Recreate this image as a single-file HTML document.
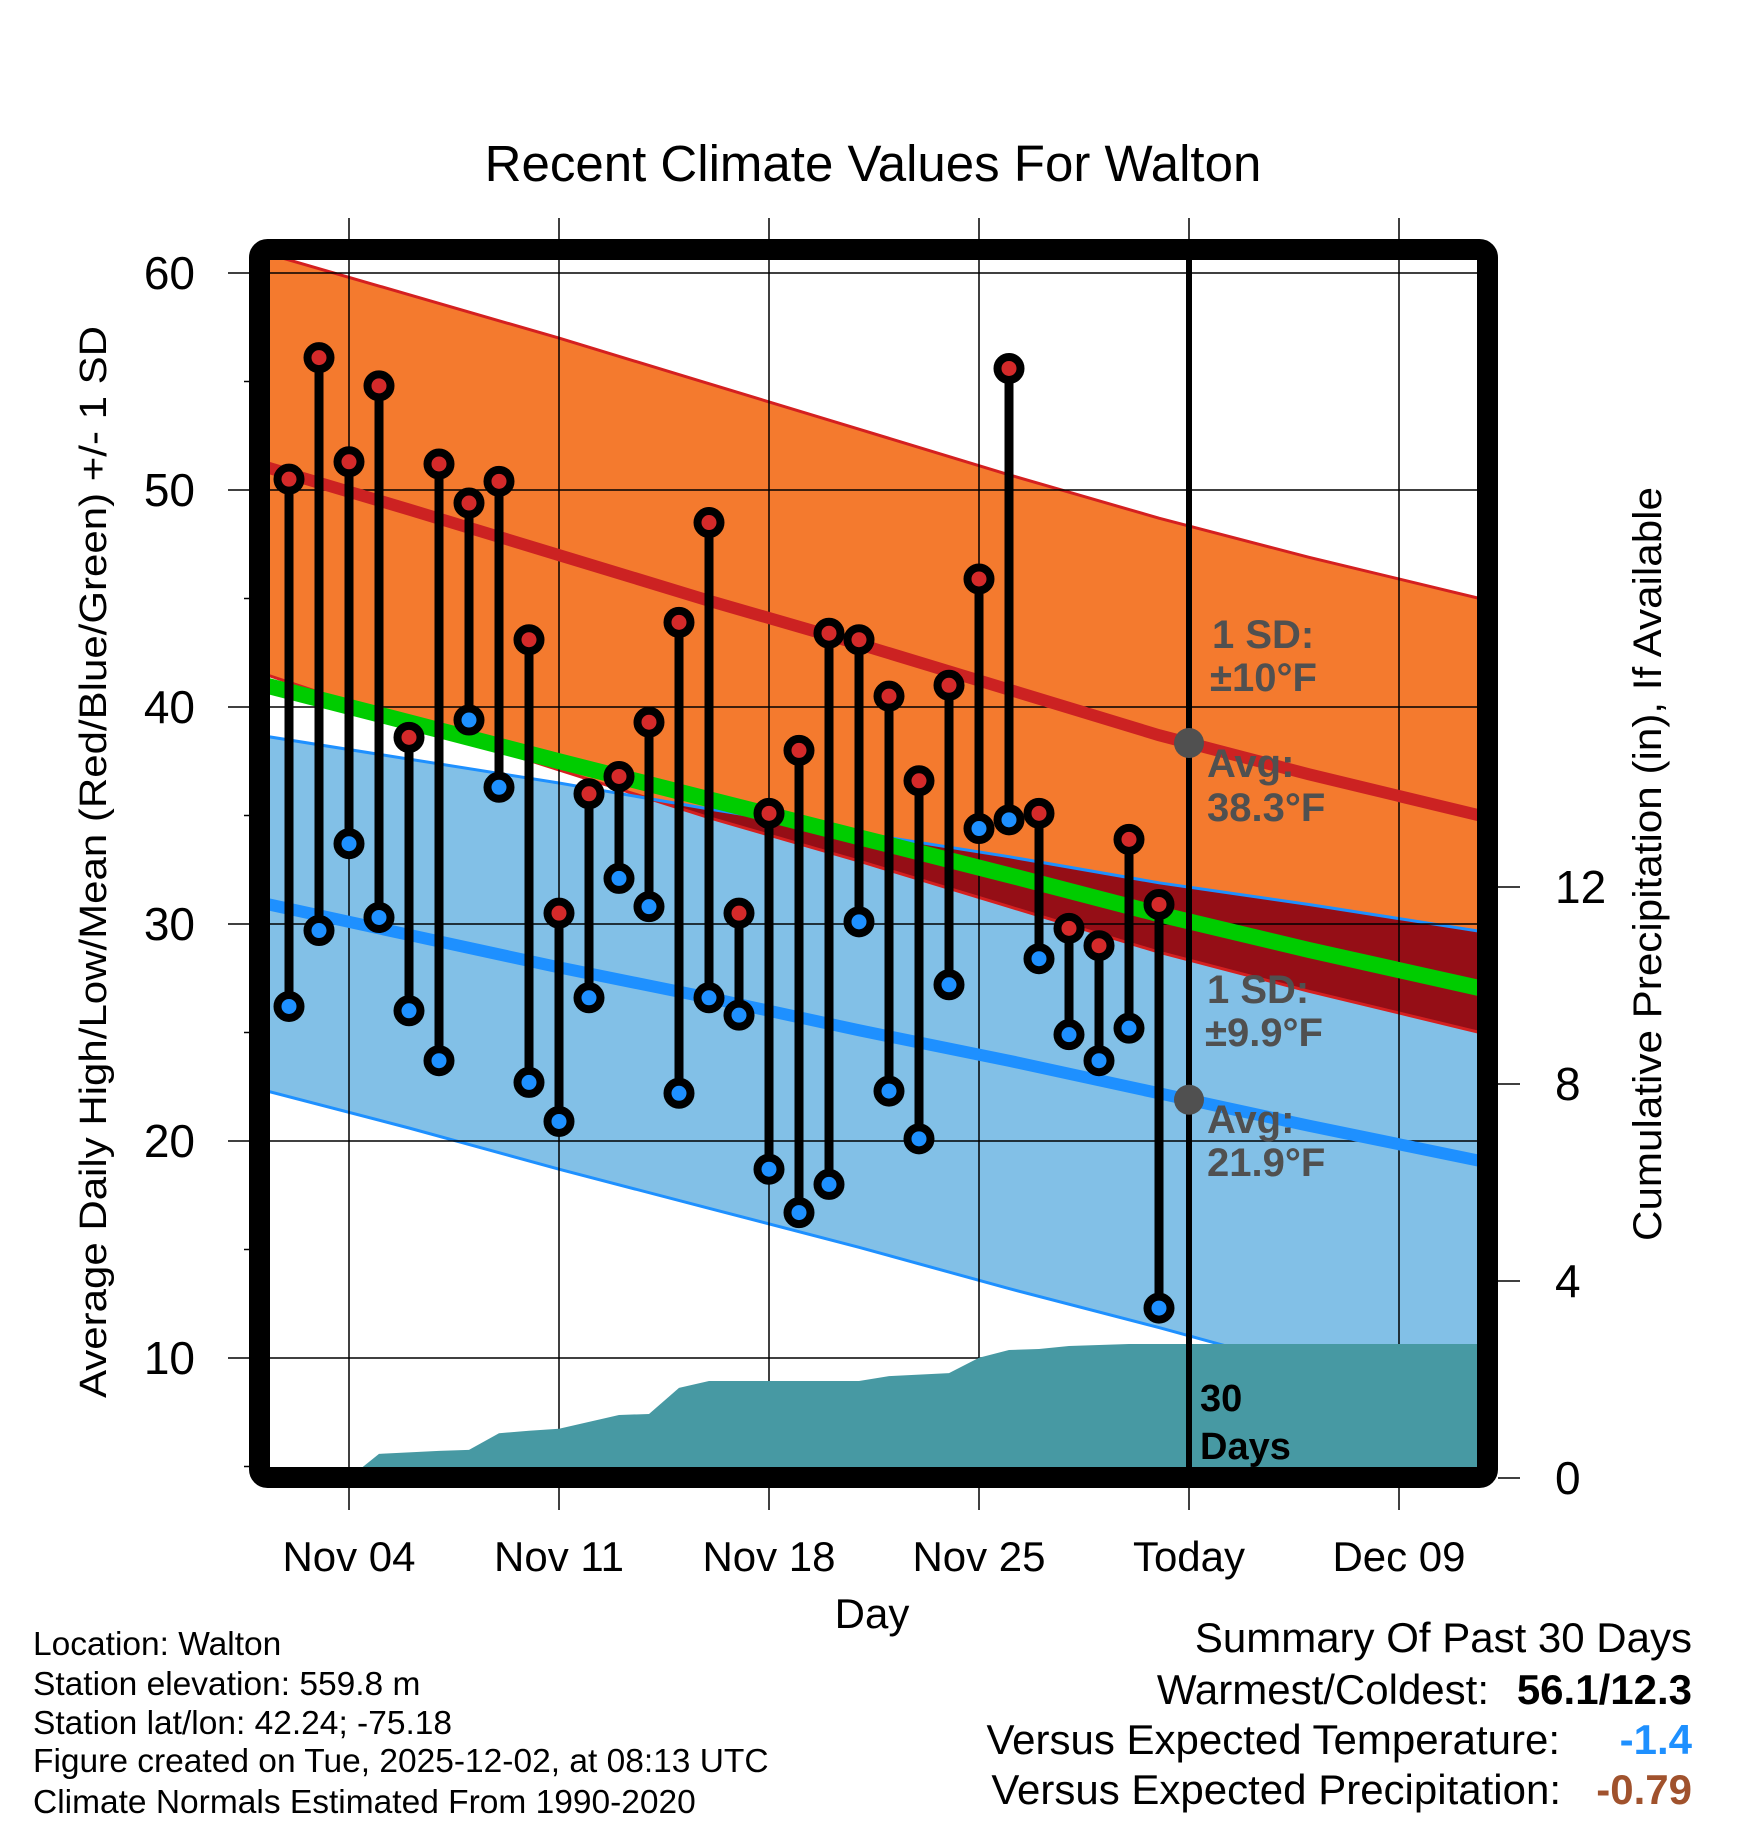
<!DOCTYPE html>
<html><head><meta charset="utf-8"><style>
html,body{margin:0;padding:0;background:#fff;}
svg{display:block;font-family:"Liberation Sans",sans-serif;}
</style></head><body>
<svg id="chart" width="1748" height="1828" viewBox="0 0 1748 1828" xmlns="http://www.w3.org/2000/svg">
<defs><clipPath id="plotclip"><rect x="270" y="260" width="1208" height="1208"/></clipPath></defs>
<text x="873" y="181" font-size="51" text-anchor="middle">Recent Climate Values For Walton</text>
<g id="bands" clip-path="url(#plotclip)"></g>
<g id="grid"></g>
<g id="precip" clip-path="url(#plotclip)"></g>
<g id="lines" clip-path="url(#plotclip)"></g>
<g id="stems"></g>
<g id="annot">
 <g font-weight="bold" font-size="40" fill="#505050">
  <text x="1212" y="648">1 SD:</text>
  <text x="1210" y="691">±10°F</text>
  <text x="1207" y="777">Avg:</text>
  <text x="1207" y="821">38.3°F</text>
  <text x="1207" y="1003">1 SD:</text>
  <text x="1205" y="1046">±9.9°F</text>
  <text x="1207" y="1133">Avg:</text>
  <text x="1207" y="1176">21.9°F</text>
 </g>
 <text x="1200" y="1411" font-weight="bold" font-size="38" fill="#000">30</text>
 <text x="1200" y="1459" font-weight="bold" font-size="38" fill="#000">Days</text>
</g>
<rect x="259.5" y="249.5" width="1228" height="1228" rx="8" fill="none" stroke="#000" stroke-width="21"/>
<g id="axes"></g>
<text transform="translate(106,862) rotate(-90)" font-size="38" text-anchor="middle" textLength="1072" lengthAdjust="spacingAndGlyphs">Average Daily High/Low/Mean (Red/Blue/Green) +/- 1 SD</text>
<text transform="translate(1661,864) rotate(-90)" font-size="40" text-anchor="middle" textLength="754" lengthAdjust="spacingAndGlyphs">Cumulative Precipitation (in), If Available</text>
<text x="872" y="1628" font-size="42" text-anchor="middle">Day</text>
<g font-size="33.5" fill="#000">
 <text x="33" y="1655">Location: Walton</text>
 <text x="33" y="1695">Station elevation: 559.8 m</text>
 <text x="33" y="1734">Station lat/lon: 42.24; -75.18</text>
 <text x="33" y="1772">Figure created on Tue, 2025-12-02, at 08:13 UTC</text>
 <text x="33" y="1813">Climate Normals Estimated From 1990-2020</text>
</g>
<g font-size="42" text-anchor="end">
 <text x="1692" y="1652">Summary Of Past 30 Days</text>
 <text x="1489" y="1704">Warmest/Coldest:</text>
 <text x="1692" y="1704" font-weight="bold">56.1/12.3</text>
 <text x="1560" y="1754">Versus Expected Temperature:</text>
 <text x="1692" y="1754" font-weight="bold" fill="#1E90FF">-1.4</text>
 <text x="1561" y="1804">Versus Expected Precipitation:</text>
 <text x="1692" y="1804" font-weight="bold" fill="#A0522D">-0.79</text>
</g>
</svg>
<script>
// day numbers: Nov d = d, Dec k = 30+k
const obsDays = [2,3,4,5,6,7,8,9,10,11,12,13,14,15,16,17,18,19,20,21,22,23,24,25,26,27,28,29,30,31];
const highs = [50.5,56.1,51.3,54.8,38.6,51.2,49.4,50.4,43.1,30.5,36.0,36.8,39.3,43.9,48.5,30.5,35.1,38.0,43.4,43.1,40.5,36.6,41.0,45.9,55.6,35.1,29.8,29.0,33.9,30.9];
const lows = [26.2,29.7,33.7,30.3,26.0,23.7,39.4,36.3,22.7,20.9,26.6,32.1,30.8,22.2,26.6,25.8,18.7,16.7,18.0,30.1,22.3,20.1,27.2,34.4,34.8,28.4,24.9,23.7,25.2,12.3];
const precip = [0,0,0,0.49,0.52,0.55,0.57,0.91,0.96,1.0,1.14,1.28,1.3,1.83,1.97,1.97,1.97,1.97,1.97,1.97,2.07,2.1,2.13,2.44,2.6,2.62,2.68,2.7,2.72,2.72];
const normDays = [1,6,11,16,21,26,31,36,42];
const highAvg = [51.15,49.1,47.0,44.9,42.9,40.8,38.7,36.9,34.9];
const highUpper = [61.0,59.0,57.0,54.9,52.8,50.7,48.7,46.9,44.9];
const highLower = [41.6,39.3,37.1,34.9,32.9,30.8,28.7,26.9,24.9];
const lowAvg = [31.0,29.5,28.0,26.6,25.1,23.7,22.2,20.7,19.0];
const lowUpper = [38.7,37.6,36.5,35.3,34.2,33.1,31.9,30.9,29.6];
const lowLower = [22.4,20.6,18.7,16.9,15.1,13.2,11.4,9.5,7.3];
const xTickDays = [4,11,18,25,32,39];
const xTickLabels = ["Nov 04","Nov 11","Nov 18","Nov 25","Today","Dec 09"];
const yTicks = [60,50,40,30,20,10];
const yMinor = [55,45,35,25,15,5];
const y2Ticks = [0,4,8,12];
const todayDay = 32;

const NS="http://www.w3.org/2000/svg";
const X = d => 349 + (d-4)*30;
const Y = v => 273 + (60-v)*21.7;
const Y2 = p => 1478 - p*49.25;
function mk(tag, attrs, parent){const e=document.createElementNS(NS,tag);for(const k in attrs)e.setAttribute(k,attrs[k]);parent.appendChild(e);return e;}
function pts(days, vals){return days.map((d,i)=>X(d).toFixed(1)+","+Y(vals[i]).toFixed(1));}
function interp(days, vals, d){for(let i=0;i<days.length-1;i++){if(d>=days[i]&&d<=days[i+1]){const t=(d-days[i])/(days[i+1]-days[i]);return vals[i]+t*(vals[i+1]-vals[i]);}}return vals[vals.length-1];}

const bands=document.getElementById('bands');
const defs=document.querySelector('defs');
const lowBandD = "M"+pts(normDays,lowUpper).join(" L")+" L"+pts(normDays,lowLower).reverse().join(" L")+" Z";
const highBandD = "M"+pts(normDays,highUpper).join(" L")+" L"+pts(normDays,highLower).reverse().join(" L")+" Z";
const cp = mk('clipPath',{id:'lowclip'},defs);
mk('path',{d:lowBandD},cp);
let e;
e=mk('path',{d:highBandD,fill:'#F47A2E'},bands);


e=mk('path',{d:lowBandD,fill:'#82C0E7'},bands);


e=mk('path',{d:highBandD,fill:'#950E16','clip-path':'url(#lowclip)'},bands);


e=mk('polyline',{points:pts(normDays,highUpper).join(" "),fill:'none',stroke:'#D42020','stroke-width':3},bands);


e=mk('polyline',{points:pts(normDays,highLower).join(" "),fill:'none',stroke:'#D42020','stroke-width':3},bands);


e=mk('polyline',{points:pts(normDays,lowUpper).join(" "),fill:'none',stroke:'#1E90FF','stroke-width':3},bands);


e=mk('polyline',{points:pts(normDays,lowLower).join(" "),fill:'none',stroke:'#1E90FF','stroke-width':3},bands);



// grid
const grid=document.getElementById('grid');
xTickDays.forEach(d=>{
  e=mk('line',{x1:X(d),x2:X(d),y1:218,y2:1510,stroke:'#000','stroke-width':1.5},grid);
  
  
});
yTicks.forEach(v=>{
  e=mk('line',{x1:228,x2:1478,y1:Y(v),y2:Y(v),stroke:'#000','stroke-width':1.5},grid);
  
  
});
yMinor.forEach(v=>{
  e=mk('line',{x1:244,x2:260,y1:Y(v),y2:Y(v),stroke:'#000','stroke-width':1.5},grid);
  
  
});

// precip
const pg=document.getElementById('precip');
let pd="M270,1480 L"+X(obsDays[0])+","+Y2(precip[0]);
obsDays.forEach((d,i)=>{pd+=" L"+X(d)+","+Y2(precip[i]).toFixed(1);});
pd+=" L1480,"+Y2(precip[precip.length-1]).toFixed(1)+" L1480,1480 Z";
e=mk('path',{d:pd,fill:'#4799A3'},pg);



// avg lines
const lg=document.getElementById('lines');
e=mk('polyline',{points:pts(normDays,highAvg).join(" "),fill:'none',stroke:'#CC2222','stroke-width':12},lg);


e=mk('polyline',{points:pts(normDays,lowAvg).join(" "),fill:'none',stroke:'#1E90FF','stroke-width':12},lg);


const meanVals = highAvg.map((h,i)=>(h+lowAvg[i])/2);
e=mk('polyline',{points:pts(normDays,meanVals).join(" "),fill:'none',stroke:'#00CC00','stroke-width':16},lg);



// stems
const sg=document.getElementById('stems');
obsDays.forEach((d,i)=>{
  e=mk('line',{x1:X(d),x2:X(d),y1:Y(highs[i]),y2:Y(lows[i]),stroke:'#000','stroke-width':9},sg);
  
  
});
obsDays.forEach((d,i)=>{
  e=mk('circle',{cx:X(d),cy:Y(highs[i]),r:11.5,fill:'#D42A2A',stroke:'#000','stroke-width':8},sg);
  
  
  e=mk('circle',{cx:X(d),cy:Y(lows[i]),r:11.5,fill:'#1E90FF',stroke:'#000','stroke-width':8},sg);
  
  
});

// today line and dots
const ag=document.getElementById('axes');
e=mk('line',{x1:X(todayDay),x2:X(todayDay),y1:260,y2:1470,stroke:'#000','stroke-width':6},ag);


e=mk('circle',{cx:X(todayDay),cy:Y(interp(normDays,highAvg,todayDay)),r:15,fill:'#505050'},ag);


e=mk('circle',{cx:X(todayDay),cy:Y(interp(normDays,lowAvg,todayDay)),r:15,fill:'#505050'},ag);



// axis labels
xTickDays.forEach((d,i)=>{
  e=mk('text',{x:X(d),y:1571,'font-size':42,'text-anchor':'middle'},ag);
  e.textContent=xTickLabels[i];
  
  
});
yTicks.forEach(v=>{
  e=mk('text',{x:195,y:Y(v)+16,'font-size':46,'text-anchor':'end'},ag);
  e.textContent=String(v);
  
  
});
y2Ticks.forEach(p=>{
  e=mk('line',{x1:1498,x2:1520,y1:Y2(p),y2:Y2(p),stroke:'#000','stroke-width':1.5},ag);
  
  
  e=mk('text',{x:1555,y:Y2(p)+16,'font-size':46,'text-anchor':'start'},ag);
  e.textContent=String(p);
  
  
});
</script>
</body></html>
